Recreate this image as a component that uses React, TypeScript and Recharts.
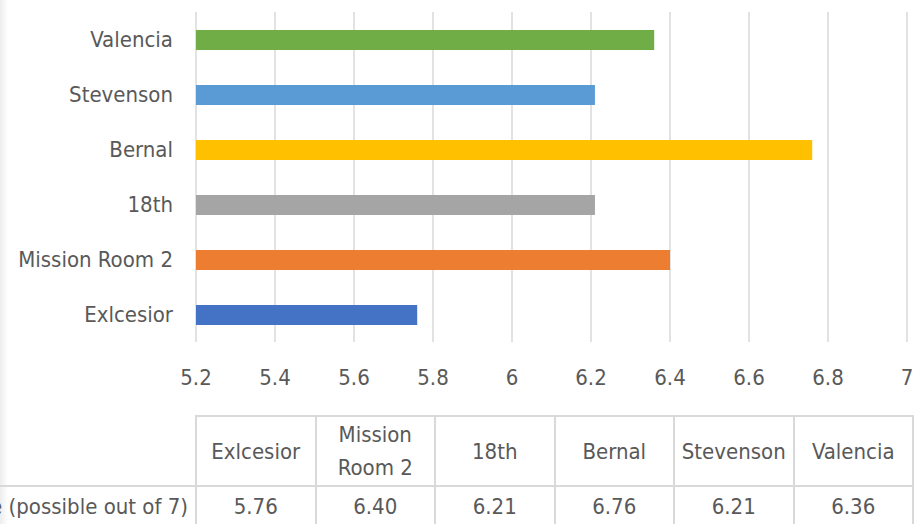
import { Bar, BarChart, CartesianGrid, Cell, XAxis, YAxis } from 'recharts'

const sites = ['Exlcesior', 'Mission Room 2', '18th', 'Bernal', 'Stevenson', 'Valencia']
const scores = [5.76, 6.4, 6.21, 6.76, 6.21, 6.36]
const siteColors = ['#4472C4', '#ED7D31', '#A5A5A5', '#FFC000', '#5B9BD5', '#70AD47']
const scoreTicks = [5.2, 5.4, 5.6, 5.8, 6, 6.2, 6.4, 6.6, 6.8, 7]
const rowLabel = 'Average Score (possible out of 7)'

const data = sites.map((name, i) => ({ name, score: scores[i] }))

const FONT = "'DejaVu Sans Condensed', 'Liberation Sans Narrow', sans-serif"
const TEXT = '#595959'
const LINE = '#d9d9d9'
const FONT_SIZE = 22
const LABEL_COL = 500
const SITE_COL = 119.5

const cell = {
  border: `2px solid ${LINE}`,
  padding: 0,
  textAlign: 'center' as const,
  verticalAlign: 'middle' as const,
  lineHeight: '33px',
  overflow: 'visible',
}

function ScoreTable() {
  return (
    <table
      style={{
        position: 'absolute',
        left: 196 - LABEL_COL,
        top: 415,
        width: LABEL_COL + SITE_COL * sites.length,
        borderCollapse: 'collapse',
        tableLayout: 'fixed',
        fontFamily: FONT,
        fontSize: FONT_SIZE,
        color: TEXT,
      }}
    >
      <colgroup>
        <col style={{ width: LABEL_COL }} />
        {sites.map((s) => (
          <col key={s} style={{ width: SITE_COL }} />
        ))}
      </colgroup>
      <tbody>
        <tr style={{ height: 70 }}>
          <td style={{ ...cell, borderTop: 'none', borderLeft: 'none' }} />
          {sites.map((s) => (
            <td key={s} style={cell}>
              {s}
            </td>
          ))}
        </tr>
        <tr style={{ height: 40 }}>
          <td
            style={{
              ...cell,
              borderLeft: 'none',
              textAlign: 'right',
              whiteSpace: 'nowrap',
              paddingRight: 7,
            }}
          >
            {rowLabel}
          </td>
          {scores.map((v, i) => (
            <td key={sites[i]} style={cell}>
              {v.toFixed(2)}
            </td>
          ))}
        </tr>
      </tbody>
    </table>
  )
}

export default function App() {
  return (
    <div
      style={{
        position: 'absolute',
        left: 0,
        top: 0,
        width: 924,
        height: 524,
        overflow: 'hidden',
        background: '#fff',
      }}
    >
      <div
        style={{
          position: 'absolute',
          left: 0,
          top: 0,
          width: 8,
          height: 524,
          background: 'linear-gradient(to right, rgba(0,0,0,0.07), rgba(0,0,0,0))',
        }}
      />
      <BarChart
        width={924}
        height={402}
        layout='vertical'
        data={data}
        margin={{ top: 12, right: 17, bottom: 0, left: 0 }}
        style={{ fontFamily: FONT }}
      >
        <CartesianGrid horizontal={false} stroke={LINE} strokeWidth={1.5} />
        <XAxis
          type='number'
          domain={[5.2, 7]}
          ticks={scoreTicks}
          interval={0}
          allowDataOverflow
          axisLine={false}
          tickLine={false}
          tickMargin={21}
          height={60}
          tick={{ fill: TEXT, fontSize: FONT_SIZE }}
        />
        <YAxis
          type='category'
          dataKey='name'
          reversed
          interval={0}
          axisLine={false}
          tickLine={false}
          tickMargin={17}
          width={196}
          tick={{ fill: TEXT, fontSize: FONT_SIZE }}
        />
        <Bar dataKey='score' barSize={20} isAnimationActive={false}>
          {data.map((d, i) => (
            <Cell key={d.name} fill={siteColors[i]} />
          ))}
        </Bar>
      </BarChart>
      <ScoreTable />
    </div>
  )
}
